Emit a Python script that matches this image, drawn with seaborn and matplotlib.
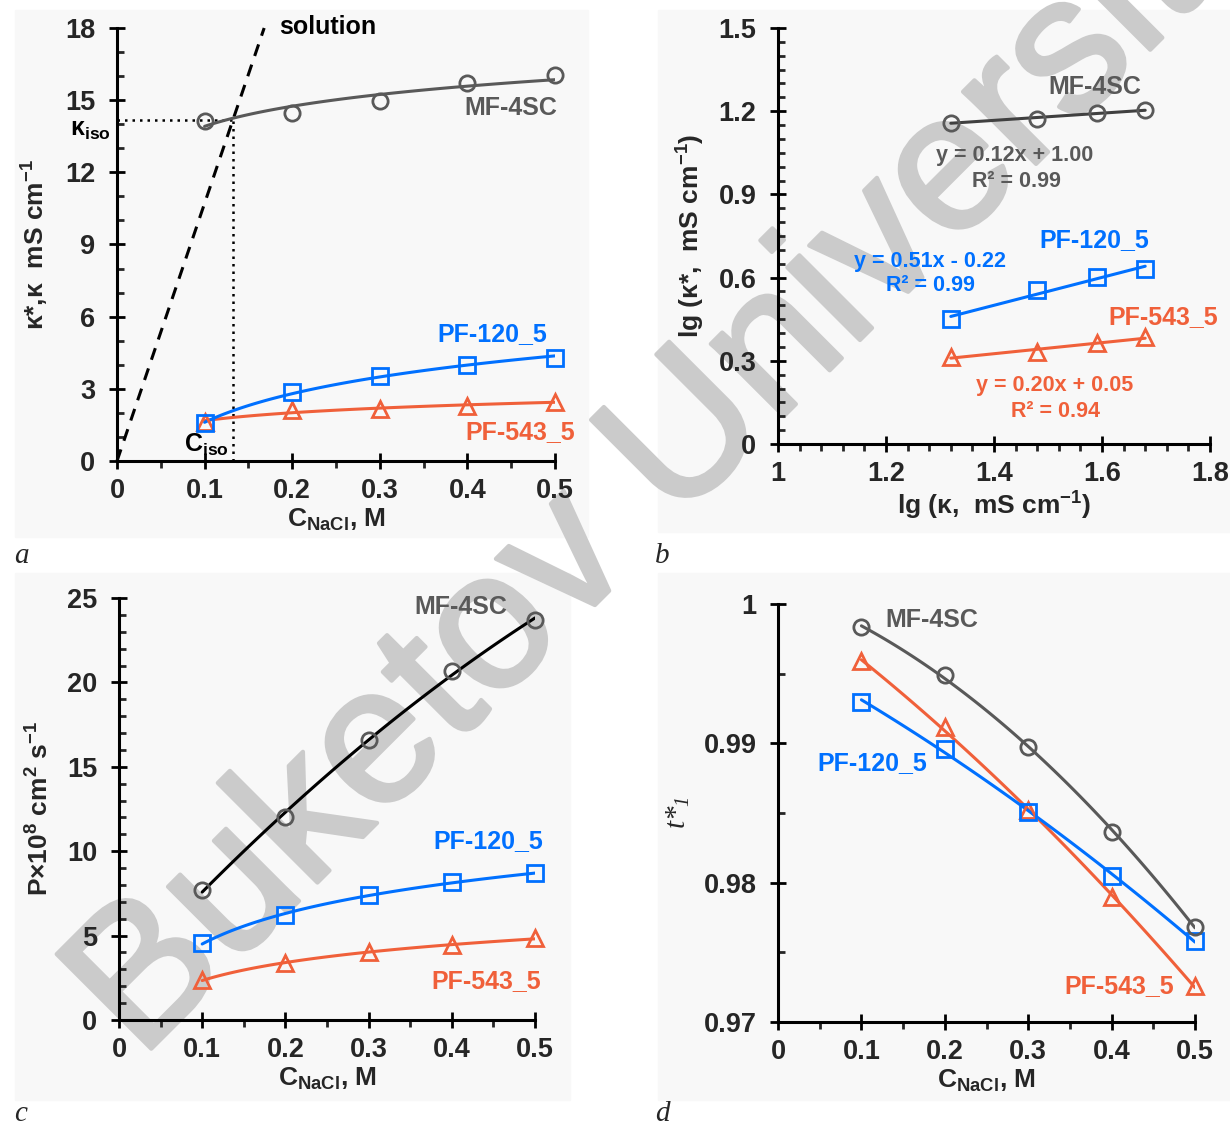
import numpy as np
import pandas as pd
import seaborn as sns
import matplotlib.pyplot as plt
import matplotlib.patheffects as pe
from matplotlib.ticker import MultipleLocator, FuncFormatter
from matplotlib.patches import Rectangle

sns.set_style('ticks')
plt.rcParams['font.family'] = ['Liberation Sans', 'DejaVu Sans']
plt.rcParams['font.weight'] = 'bold'
plt.rcParams['axes.labelweight'] = 'bold'
plt.rcParams['mathtext.default'] = 'regular'
plt.rcParams['axes.linewidth'] = 2.2
plt.rcParams['axes.edgecolor'] = 'black'

GRAY = '#595959'
BLUE = '#0070FF'
ORANGE = '#F0603A'

# ---- data ----
c_nacl = [0.1, 0.2, 0.3, 0.4, 0.5]

# (a) conductivity vs concentration
kappa_mf = [14.14, 14.46, 14.97, 15.73, 16.03]
kappa_pf120 = [1.56, 2.85, 3.55, 4.00, 4.30]
kappa_pf543 = [1.62, 2.13, 2.18, 2.29, 2.44]
solution_c = [0, 0.168]
solution_k = [0, 18.0]
c_iso = 0.132
k_iso = 14.17

# (b) log-log
lg_kappa = [1.32, 1.48, 1.59, 1.68]
lg_mf = [1.159, 1.172, 1.194, 1.204]
lg_pf120 = [0.451, 0.554, 0.601, 0.631]
lg_pf543 = [0.315, 0.332, 0.363, 0.386]
eq_mf = ['y = 0.12x + 1.00', 'R² = 0.99']
eq_pf120 = ['y = 0.51x - 0.22', 'R² = 0.99']
eq_pf543 = ['y = 0.20x + 0.05', 'R² = 0.94']

# (c) diffusion permeability
perm_mf = [7.72, 12.02, 16.6, 20.7, 23.68]
perm_pf120 = [4.55, 6.20, 7.41, 8.15, 8.70]
perm_pf543 = [2.35, 3.40, 4.00, 4.45, 4.84]

# (d) counter-ion transport number
t_mf = [0.99833, 0.99487, 0.98974, 0.98364, 0.97685]
t_pf120 = [0.99300, 0.98962, 0.98505, 0.98051, 0.97582]
t_pf543 = [0.99588, 0.99115, 0.98521, 0.97897, 0.97256]

fig = plt.figure(figsize=(12.3, 11.3), dpi=100)
W, H = 1230, 1130


def px_rect(x0, y0, x1, y1):
    return [x0 / W, 1 - y1 / H, (x1 - x0) / W, (y1 - y0) / H]


# light panel backgrounds and the watermark sit behind the axes
for r in [(15, 10, 588, 537), (658, 10, 1230, 532), (15, 573, 570, 1100), (658, 573, 1230, 1100)]:
    fig.patches.append(Rectangle((r[0] / W, 1 - r[3] / H), (r[2] - r[0]) / W, (r[3] - r[1]) / H,
                                 transform=fig.transFigure, color='#f8f8f8', zorder=-3))
fig.text(140 / W, 1 - 1060 / H, 'Buketov University', rotation=45, rotation_mode='anchor',
         ha='left', va='baseline', fontsize=140, color='#cbcbcb', fontweight='normal', zorder=-1,
         path_effects=[pe.withStroke(linewidth=3, foreground='#cbcbcb')])

ax_a = fig.add_axes(px_rect(117, 28, 555, 461))
ax_b = fig.add_axes(px_rect(778, 28, 1210, 444))
ax_c = fig.add_axes(px_rect(119, 598, 535, 1020))
ax_d = fig.add_axes(px_rect(778, 604, 1195, 1022))

fmt = FuncFormatter(lambda v, p: f'{v:g}')


def style(ax, xlim, ylim, xmaj, xmin, ymaj, ymin):
    ax.patch.set_alpha(0)
    sns.despine(ax=ax)
    ax.set_xlim(*xlim)
    ax.set_ylim(*ylim)
    ax.xaxis.set_major_locator(MultipleLocator(xmaj))
    ax.xaxis.set_minor_locator(MultipleLocator(xmin))
    ax.yaxis.set_major_locator(MultipleLocator(ymaj))
    ax.yaxis.set_minor_locator(MultipleLocator(ymin))
    ax.xaxis.set_major_formatter(fmt)
    ax.yaxis.set_major_formatter(fmt)
    ax.tick_params(which='major', direction='inout', length=11, width=2, labelsize=19.5, color='black')
    ax.tick_params(axis='x', which='major', pad=7)
    ax.tick_params(axis='y', which='major', pad=10)
    ax.tick_params(axis='x', which='minor', direction='out', length=5, width=2)
    ax.tick_params(axis='y', which='minor', direction='in', length=5, width=2)


def series(ax, x, y, color, marker, line_color=None, fit='log'):
    lc = line_color or color
    if fit == 'log':
        sns.regplot(x=x, y=y, ax=ax, scatter=False, ci=None, logx=True, color=lc, line_kws=dict(lw=2.2, zorder=3))
    elif fit == 'lin':
        sns.regplot(x=x, y=y, ax=ax, scatter=False, ci=None, color=lc, line_kws=dict(lw=2.2, zorder=3))
    else:
        sns.regplot(x=x, y=y, ax=ax, scatter=False, ci=None, order=2, color=lc, line_kws=dict(lw=2.2, zorder=3))
    sns.lineplot(x=x, y=y, ax=ax, color=color, marker=marker, markersize=11 if marker != '^' else 12,
                 markerfacecolor='none', markeredgecolor=color, markeredgewidth=2,
                 linestyle='none', zorder=4, clip_on=False)


label_kw = dict(fontsize=18, fontweight='bold', ha='center', va='center')

# ---- (a) ----
sns.lineplot(x=solution_c, y=solution_k, ax=ax_a, color='black', lw=2.2, linestyle=(0, (4, 3)), clip_on=False)
sns.lineplot(x=[0, c_iso], y=[k_iso, k_iso], ax=ax_a, color='black', lw=1.8, linestyle=(0, (1, 2)))
sns.lineplot(x=[c_iso, c_iso], y=[k_iso, 0], ax=ax_a, color='black', lw=1.8, linestyle=(0, (1, 2)),
             orient='y')
series(ax_a, c_nacl, kappa_pf543, ORANGE, '^')
series(ax_a, c_nacl, kappa_pf120, BLUE, 's')
series(ax_a, c_nacl, kappa_mf, GRAY, 'o')
style(ax_a, (0, 0.5), (0, 18), 0.1, 0.05, 3, 1)
ax_a.text(0.449, 14.66, 'MF-4SC', color=GRAY, **label_kw)
ax_a.text(0.4287, 5.28, 'PF-120_5', color=BLUE, **label_kw)
ax_a.text(0.460, 1.19, 'PF-543_5', color=ORANGE, **label_kw)
ax_a.text(0.24, 18.05, 'solution', color='black', **label_kw)
ax_a.text(-0.03, 13.75, 'κ$_{iso}$', color='black', clip_on=False, **label_kw)
ax_a.text(0.1016, 0.66, 'C$_{iso}$', color='black', **label_kw)
ax_a.set_xlabel('C$_{NaCl}$, M', fontsize=19, labelpad=2)
ax_a.set_ylabel('κ*,κ  mS cm$^{-1}$', fontsize=19, labelpad=10)

# ---- (b) ----
series(ax_b, lg_kappa, lg_pf543, ORANGE, '^', fit='lin')
series(ax_b, lg_kappa, lg_pf120, BLUE, 's', fit='lin')
series(ax_b, lg_kappa, lg_mf, GRAY, 'o', line_color='#404040', fit='lin')
style(ax_b, (1, 1.8), (0, 1.5), 0.2, 0.04, 0.3, 0.05)
eq_kw = dict(fontsize=15.5, fontweight='bold', ha='center', va='center')
ax_b.text(1.586, 1.287, 'MF-4SC', color=GRAY, **label_kw)
ax_b.text(1.439, 1.040, eq_mf[0], color=GRAY, **eq_kw)
ax_b.text(1.441, 0.946, eq_mf[1], color=GRAY, **eq_kw)
ax_b.text(1.586, 0.734, 'PF-120_5', color=BLUE, **label_kw)
ax_b.text(1.281, 0.659, eq_pf120[0], color=BLUE, **eq_kw)
ax_b.text(1.282, 0.570, eq_pf120[1], color=BLUE, **eq_kw)
ax_b.text(1.713, 0.457, 'PF-543_5', color=ORANGE, clip_on=False, **label_kw)
ax_b.text(1.513, 0.212, eq_pf543[0], color=ORANGE, **eq_kw)
ax_b.text(1.514, 0.118, eq_pf543[1], color=ORANGE, **eq_kw)
ax_b.set_xlabel('lg (κ,  mS cm$^{-1}$)', fontsize=19, labelpad=2)
ax_b.set_ylabel('lg (κ*,  mS cm$^{-1}$)', fontsize=19, labelpad=8)

# ---- (c) ----
series(ax_c, c_nacl, perm_pf543, ORANGE, '^')
series(ax_c, c_nacl, perm_pf120, BLUE, 's')
series(ax_c, c_nacl, perm_mf, GRAY, 'o', line_color='black', fit='poly')
style(ax_c, (0, 0.5), (0, 25), 0.1, 0.05, 5, 1)
ax_c.text(0.411, 24.45, 'MF-4SC', color=GRAY, clip_on=False, **label_kw)
ax_c.text(0.444, 10.6, 'PF-120_5', color=BLUE, **label_kw)
ax_c.text(0.441, 2.33, 'PF-543_5', color=ORANGE, **label_kw)
ax_c.set_xlabel('C$_{NaCl}$, M', fontsize=19, labelpad=2)
ax_c.set_ylabel('P×10$^{8}$ cm$^{2}$ s$^{-1}$', fontsize=19, labelpad=10)

# ---- (d) ----
series(ax_d, c_nacl, t_pf543, ORANGE, '^', fit='poly')
series(ax_d, c_nacl, t_pf120, BLUE, 's', fit='poly')
series(ax_d, c_nacl, t_mf, GRAY, 'o', fit='poly')
style(ax_d, (0, 0.5), (0.97, 1.0), 0.1, 0.05, 0.01, 0.005)
ax_d.text(0.185, 0.99885, 'MF-4SC', color=GRAY, **label_kw)
ax_d.text(0.1126, 0.98859, 'PF-120_5', color=BLUE, **label_kw)
ax_d.text(0.4086, 0.97256, 'PF-543_5', color=ORANGE, **label_kw)
ax_d.set_xlabel('C$_{NaCl}$, M', fontsize=19, labelpad=2)
ax_d.set_ylabel('t*$_{1}$', fontsize=21, family='Liberation Serif', fontstyle='italic',
                fontweight='normal', labelpad=8)

for ax in (ax_a, ax_b, ax_c, ax_d):
    for sp in ax.spines.values():
        sp.set_zorder(5)
    if ax.get_legend() is not None:
        ax.get_legend().remove()

letter_kw = dict(fontsize=21, family='Liberation Serif', fontstyle='italic', fontweight='normal',
                 ha='left', va='baseline')
fig.text(14 / W, 1 - 563 / H, 'a', **letter_kw)
fig.text(655 / W, 1 - 563 / H, 'b', **letter_kw)
fig.text(14 / W, 1 - 1121 / H, 'c', **letter_kw)
fig.text(655 / W, 1 - 1121 / H, 'd', **letter_kw)

fig.savefig('out.png', dpi=100)
